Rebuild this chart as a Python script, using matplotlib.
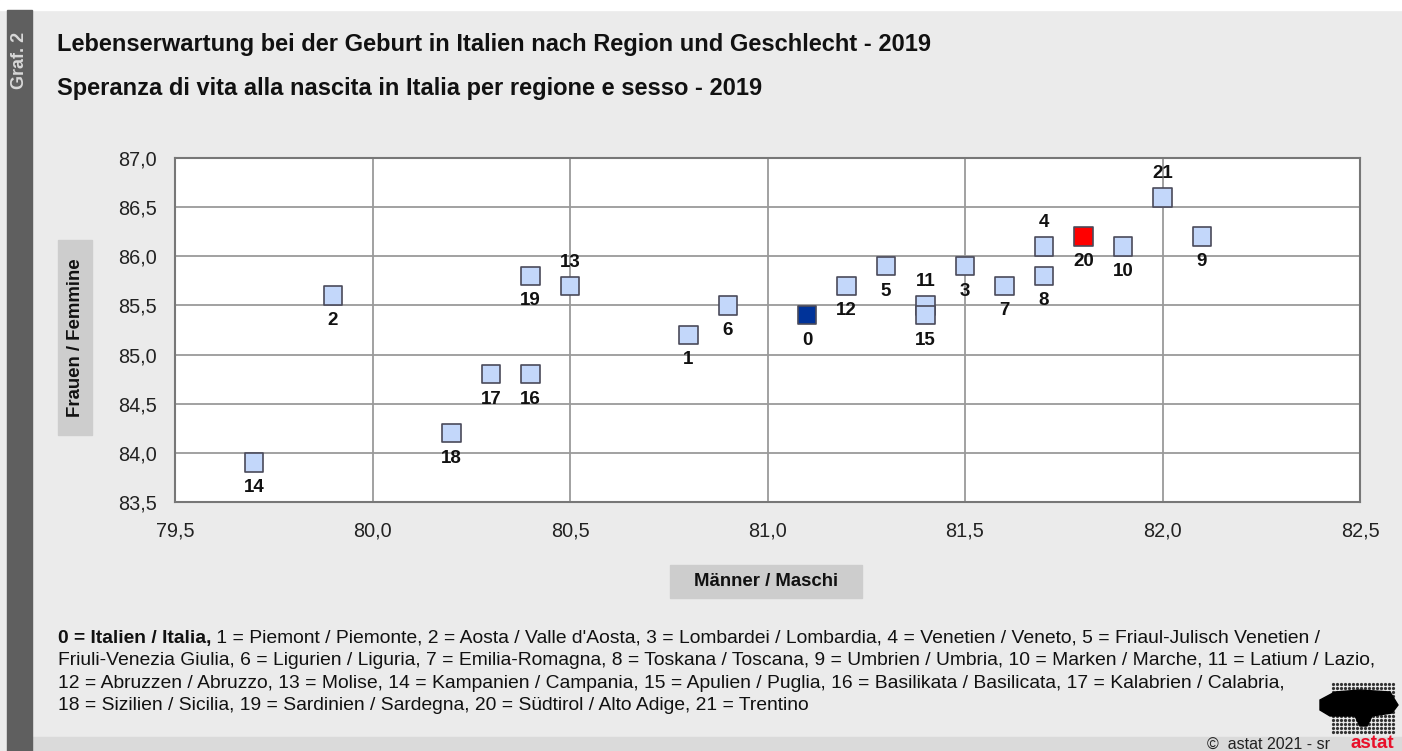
import numpy as np
import matplotlib.pyplot as plt
from matplotlib.patches import Rectangle, Polygon

plt.rcParams['font.family'] = ['Liberation Sans', 'DejaVu Sans']

# data: life expectancy at birth 2019, men (x) and women (y)

region_ids = list(range(22))
men = [81.1, 80.8, 79.9, 81.5, 81.7, 81.3, 80.9, 81.6, 81.7, 82.1, 81.9,
       81.4, 81.2, 80.5, 79.7, 81.4, 80.4, 80.3, 80.2, 80.4, 81.8, 82.0]
women = [85.4, 85.2, 85.6, 85.9, 86.1, 85.9, 85.5, 85.7, 85.8, 86.2, 86.1,
         85.5, 85.7, 85.7, 83.9, 85.4, 84.8, 84.8, 84.2, 85.8, 86.2, 86.6]
labels_above = [4, 11, 13, 21]

x_ticks = [79.5, 80.0, 80.5, 81.0, 81.5, 82.0, 82.5]
y_ticks = [83.5, 84.0, 84.5, 85.0, 85.5, 86.0, 86.5, 87.0]

title_de = 'Lebenserwartung bei der Geburt in Italien nach Region und Geschlecht - 2019'
title_it = 'Speranza di vita alla nascita in Italia per regione e sesso - 2019'
note_bold = '0 = Italien / Italia,'
note_lines = [
    " 1 = Piemont / Piemonte, 2 = Aosta / Valle d'Aosta, 3 = Lombardei / Lombardia, 4 = Venetien / Veneto, 5 = Friaul-Julisch Venetien /",
    "Friuli-Venezia Giulia, 6 = Ligurien / Liguria, 7 = Emilia-Romagna, 8 = Toskana / Toscana, 9 = Umbrien / Umbria, 10 = Marken / Marche, 11 = Latium / Lazio,",
    "12 = Abruzzen / Abruzzo, 13 = Molise, 14 = Kampanien / Campania, 15 = Apulien / Puglia, 16 = Basilikata / Basilicata, 17 = Kalabrien / Calabria,",
    "18 = Sizilien / Sicilia, 19 = Sardinien / Sardegna, 20 = Südtirol / Alto Adige, 21 = Trentino",
]

W, H = 1402, 751


def fx(px):
    return px / W


def fy(py):
    return 1 - py / H


fig = plt.figure(figsize=(W / 100, H / 100), dpi=100)
fig.patch.set_facecolor('#ebebeb')

# frame decorations
fig.patches.append(Rectangle((0, fy(10)), 1, 10 / H, transform=fig.transFigure, color='white', zorder=0))
fig.patches.append(Rectangle((fx(7), 0), 25 / W, fy(10), transform=fig.transFigure, color='#5f5f5f', zorder=1))
fig.patches.append(Rectangle((fx(32), 0), 1, 14 / H, transform=fig.transFigure, color='#dadada', zorder=0))
fig.text(fx(19.5), fy(60), 'Graf. 2', rotation=90, color='#d8d8d8', fontsize=13, weight='bold', ha='center', va='center')

fig.text(fx(57), fy(45), title_de, fontsize=17, weight='bold', ha='left', va='center', color='#111111')
fig.text(fx(57), fy(89), title_it, fontsize=17, weight='bold', ha='left', va='center', color='#111111')

ax = fig.add_axes([fx(175), fy(502), (1360 - 175) / W, (502 - 158) / H])
ax.set_facecolor('white')
ax.set_xlim(x_ticks[0], x_ticks[-1])
ax.set_ylim(y_ticks[0], y_ticks[-1])
ax.set_xticks(x_ticks)
ax.set_yticks(y_ticks)
ax.set_xticklabels([f'{v:.1f}'.replace('.', ',') for v in x_ticks])
ax.set_yticklabels([f'{v:.1f}'.replace('.', ',') for v in y_ticks])
ax.tick_params(length=0, labelsize=14.3, colors='#222222')
ax.tick_params(axis='x', pad=14)
ax.tick_params(axis='y', pad=13)
ax.grid(color='#9a9a9a', linewidth=1.3)
ax.set_axisbelow(True)
for s in ax.spines.values():
    s.set_color('#777777')
    s.set_linewidth(1.5)

colors = []
for i in region_ids:
    if i == 0:
        colors.append('#003399')
    elif i == 20:
        colors.append('#ff0000')
    else:
        colors.append('#c3d7fa')

ax.scatter(men, women, s=175, marker='s', c=colors, edgecolors='#4a4a5a', linewidths=1.2, zorder=3, clip_on=False)

for i, x, y in zip(region_ids, men, women):
    dy = 17 if i in labels_above else -18
    ax.annotate(str(i), (x, y), xytext=(0, dy), textcoords='offset points', ha='center', va='center',
                fontsize=13.5, weight='bold', color='#111111', zorder=4)

# axis title boxes
fig.patches.append(Rectangle((fx(58), fy(435)), 34 / W, 195 / H, transform=fig.transFigure, color='#cdcdcd', zorder=1))
fig.text(fx(75), fy(338), 'Frauen / Femmine', rotation=90, fontsize=13.4, weight='bold', ha='center', va='center', color='#111111')
fig.patches.append(Rectangle((fx(670), fy(598)), 192 / W, 33 / H, transform=fig.transFigure, color='#cdcdcd', zorder=1))
fig.text(fx(766), fy(582), 'Männer / Maschi', fontsize=13.4, weight='bold', ha='center', va='center', color='#111111')

# footnote
fig.canvas.draw()
line_y = [638, 660.5, 683, 705.5]
tb = fig.text(fx(58), fy(line_y[0]), note_bold, fontsize=13.9, weight='bold', ha='left', va='center', color='#111111')
fig.canvas.draw()
bb = tb.get_window_extent()
fig.text(bb.x1 / W, fy(line_y[0]), note_lines[0], fontsize=13.9, ha='left', va='center', color='#111111')
for ly, txt in zip(line_y[1:], note_lines[1:]):
    fig.text(fx(58), fy(ly), txt, fontsize=13.9, ha='left', va='center', color='#111111')

fig.text(fx(1330), fy(744), '©  astat 2021 - sr', fontsize=11.5, ha='right', va='center', color='#222222')
fig.text(fx(1372), fy(744), 'astat', fontsize=13.5, weight='bold', ha='center', va='center', color='#e8102a')

# logo: dotted map shape
blob = Polygon([(fx(1320), fy(700)), (fx(1335), fy(692)), (fx(1360), fy(690)), (fx(1390), fy(692)),
                (fx(1398), fy(705)), (fx(1392), fy(713)), (fx(1372), fy(716)), (fx(1367), fy(726)),
                (fx(1360), fy(726)), (fx(1355), fy(716)), (fx(1330), fy(716)), (fx(1320), fy(710))],
               closed=True, transform=fig.transFigure, color='black', zorder=2)
fig.patches.append(blob)
gx, gy = np.meshgrid(np.arange(1333, 1397, 4), np.arange(684, 735, 4))
fig.add_artist(plt.Line2D(fx(gx.ravel()), fy(gy.ravel()), linestyle='none', marker='o', markersize=1.3,
                          color='#333333', transform=fig.transFigure, zorder=2))

fig.savefig('out.png', dpi=100, facecolor=fig.get_facecolor())
